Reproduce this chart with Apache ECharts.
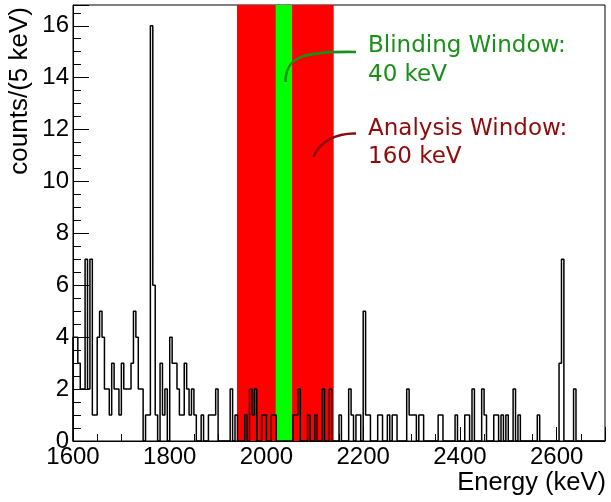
<!DOCTYPE html>
<html>
<head>
<meta charset="utf-8">
<script src="https://cdn.jsdelivr.net/npm/echarts@6/dist/echarts.min.js"></script>
<style>
  html, body { margin: 0; padding: 0; background: #ffffff; }
  #chart { width: 611px; height: 502px; }
</style>
</head>
<body>
<div id="chart"></div>
<script>
// Energy spectrum, 5 keV bins from 1600 to 2700 keV
const binStart = 1600;
const binWidth = 5;
const energyRange = [1600, 2700];
const countRange = [0, 16.8];

// counts per 5 keV bin (220 bins)
const counts = [
  4, 4, 3, 2, 2, 7, 2, 7, 1, 1,   4, 5, 4, 2, 2, 1, 3, 2, 2, 1,
  3, 2, 2, 2, 3, 5, 4, 2, 2, 0,   1, 1, 16, 6, 1, 0, 3, 1, 2, 0,
  4, 3, 3, 2, 1, 1, 3, 2, 1, 2,   1, 0, 0, 1, 0, 0, 1, 1, 1, 2,
  0, 0, 0, 0, 0, 2, 0, 1, 0, 0,   0, 1, 0, 2, 1, 2, 0, 0, 1, 1,
  0, 0, 1, 1, 0, 0, 0, 0, 0, 0,   0, 1, 1, 2, 0, 0, 0, 1, 0, 0,
  1, 0, 0, 2, 0, 0, 2, 0, 0, 0,   1, 0, 0, 0, 2, 1, 0, 1, 1, 0,
  5, 1, 1, 0, 0, 0, 1, 1, 0, 0,   1, 0, 1, 1, 0, 0, 0, 0, 2, 1,
  1, 1, 0, 1, 1, 0, 0, 0, 0, 0,   0, 1, 1, 0, 0, 0, 0, 0, 1, 0,
  0, 0, 1, 1, 0, 2, 0, 0, 0, 2,   1, 0, 0, 0, 1, 1, 0, 1, 0, 1,
  0, 0, 2, 0, 1, 0, 0, 0, 0, 0,   0, 0, 1, 0, 0, 0, 0, 0, 0, 0,
  0, 3, 7, 0, 0, 0, 0, 2, 0, 0,   0, 0, 0, 0, 0, 0, 0, 0, 0, 0
];

// shaded energy windows [from, to] in keV
const analysisWindow = [1939, 2139];
const blindingWindow = [2019, 2053];

// axis tick settings
const xTickStep = 200;
const yTickStep = 2;

const labels = {
  xTitle: 'Energy (keV)',
  yTitle: 'counts/(5 keV)',
  blinding: ['Blinding Window:', '40 keV'],
  analysis: ['Analysis Window:', '160 keV']
};

// histogram outline as a stepped polyline through the bin edges
const stepPoints = [[binStart, 0]];
counts.forEach(function (c, i) { stepPoints.push([binStart + i * binWidth, c]); });
stepPoints.push([binStart + counts.length * binWidth, counts[counts.length - 1]]);

const bands = [
  [analysisWindow[0], analysisWindow[1], '#ff0000'],
  [blindingWindow[0], blindingWindow[1], '#00ff00']
];

const GREEN_TEXT = '#1a8f1a';
const RED_TEXT = '#8f0a0a';
const labelFont = '"Liberation Sans", Arial, Helvetica, sans-serif';
const noteFont = '"DejaVu Sans", Verdana, sans-serif';

const plainNumber = function (v) { return String(v); };

const chart = echarts.init(document.getElementById('chart'), null, { renderer: 'canvas' });

chart.setOption({
  animation: false,
  backgroundColor: '#ffffff',
  grid: {
    left: 73, right: 6, top: 5, bottom: 61,
    show: true, borderColor: '#000000', borderWidth: 1, backgroundColor: 'transparent'
  },
  xAxis: {
    type: 'value',
    min: energyRange[0], max: energyRange[1], interval: xTickStep,
    axisLine: { show: true, onZero: false, lineStyle: { color: '#000', width: 1 } },
    axisTick: { show: true, inside: true, length: 14, lineStyle: { color: '#000', width: 1 } },
    minorTick: { show: true, splitNumber: 4, length: 7, lineStyle: { color: '#000', width: 1 } },
    splitLine: { show: false },
    axisLabel: {
      show: true, showMaxLabel: false, color: '#000', margin: 4,
      fontFamily: labelFont, fontSize: 24, formatter: plainNumber
    }
  },
  yAxis: {
    type: 'value',
    min: countRange[0], max: countRange[1], interval: yTickStep,
    axisLine: { show: true, onZero: false, lineStyle: { color: '#000', width: 1 } },
    axisTick: { show: true, inside: true, length: 16, lineStyle: { color: '#000', width: 1 } },
    minorTick: { show: true, splitNumber: 4, length: 8, lineStyle: { color: '#000', width: 1 } },
    splitLine: { show: false },
    axisLabel: {
      show: true, showMaxLabel: false, color: '#000', margin: 4,
      fontFamily: labelFont, fontSize: 24, formatter: plainNumber
    }
  },
  series: [
    {
      type: 'custom',
      z: 1,
      silent: true,
      data: bands,
      renderItem: function (params, api) {
        const topLeft = api.coord([api.value(0), countRange[1]]);
        const bottomRight = api.coord([api.value(1), countRange[0]]);
        return {
          type: 'rect',
          shape: {
            x: topLeft[0], y: topLeft[1],
            width: bottomRight[0] - topLeft[0], height: bottomRight[1] - topLeft[1]
          },
          style: { fill: bands[params.dataIndex][2] }
        };
      }
    },
    {
      type: 'line',
      z: 5,
      step: 'end',
      showSymbol: false,
      silent: true,
      data: stepPoints,
      lineStyle: { color: '#000000', width: 1.5 }
    }
  ],
  graphic: [
    {
      type: 'text', x: 606, y: 483, z: 50,
      style: { text: labels.xTitle, font: '25.5px ' + labelFont, fill: '#000', align: 'right', verticalAlign: 'middle' }
    },
    {
      type: 'text', x: 20, y: 7, rotation: Math.PI / 2, z: 50,
      style: { text: labels.yTitle, font: '26px ' + labelFont, fill: '#000', align: 'right', verticalAlign: 'middle' }
    },
    {
      type: 'bezierCurve', z: 40,
      shape: { x1: 356, y1: 52, cpx1: 300, cpy1: 51, cpx2: 285.5, cpy2: 58, x2: 285.5, y2: 82 },
      style: { stroke: GREEN_TEXT, lineWidth: 2.6, fill: null }
    },
    {
      type: 'bezierCurve', z: 40,
      shape: { x1: 356, y1: 133.5, cpx1: 335, cpy1: 133, cpx2: 320, cpy2: 142, x2: 313.3, y2: 157 },
      style: { stroke: RED_TEXT, lineWidth: 2.6, fill: null }
    },
    {
      type: 'text', x: 368, y: 46.5, z: 50,
      style: { text: labels.blinding[0], font: '23px ' + noteFont, fill: GREEN_TEXT, align: 'left', verticalAlign: 'middle' }
    },
    {
      type: 'text', x: 368, y: 75, z: 50,
      style: { text: labels.blinding[1], font: '23px ' + noteFont, fill: GREEN_TEXT, align: 'left', verticalAlign: 'middle' }
    },
    {
      type: 'text', x: 368, y: 129.5, z: 50,
      style: { text: labels.analysis[0], font: '23px ' + noteFont, fill: RED_TEXT, align: 'left', verticalAlign: 'middle' }
    },
    {
      type: 'text', x: 368, y: 157.5, z: 50,
      style: { text: labels.analysis[1], font: '23px ' + noteFont, fill: RED_TEXT, align: 'left', verticalAlign: 'middle' }
    }
  ]
});
</script>
</body>
</html>
